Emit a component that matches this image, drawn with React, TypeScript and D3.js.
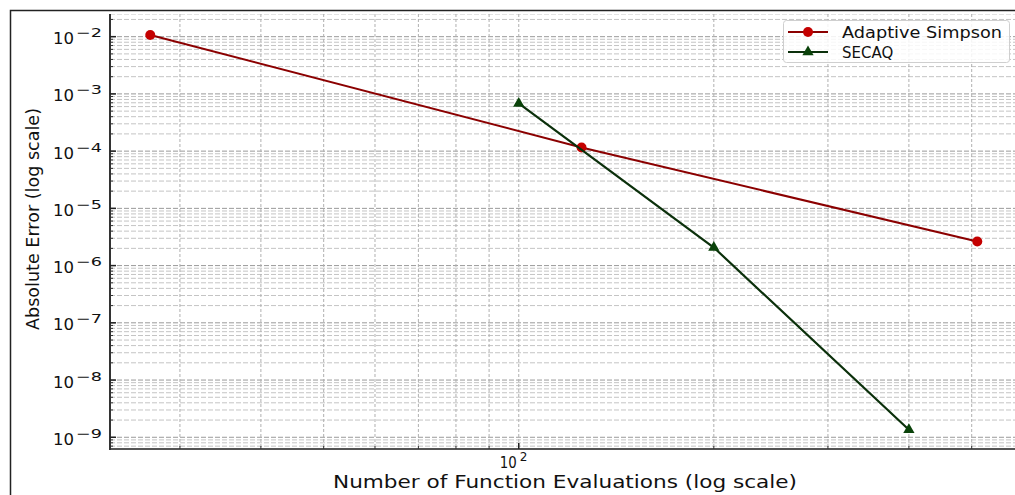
import * as d3 from 'd3';

// values
const simpsonEvals = [27, 125, 510];
const simpsonError = [0.0107, 1.16e-4, 2.63e-6];
const secaqEvals = [100, 200, 400];
const secaqError = [6.8e-4, 2.07e-6, 1.35e-9];
const yTickExponents = [-2, -3, -4, -5, -6, -7, -8, -9];
const xTickExponents = [2];
const seriesNames = ['Adaptive Simpson', 'SECAQ'];

const W = 1015, H = 495;
const left = 110, top = 14, bottom = 449, right = 1023;

const FONT = 'DejaVu Sans, sans-serif';
const RED_LINE = '#8b0000', RED_DOT = '#c40000';
const GREEN_LINE = '#0b300b', GREEN_DOT = '#0a420a';

export default function App() {
    var x = d3.scaleLog().domain([23.4, 600]).range([left, right]);
    var y = d3.scaleLog().domain([0.0249, 6.24e-10]).range([top, bottom]);

    // minor grid positions (2..9 times each decade)
    let yMinor: number[] = [];
    for (let e = -10; e <= -2; e++) {
        for (let k = 2; k <= 9; k++) {
            let v = k * Math.pow(10, e);
            if (v <= 0.0249 && v >= 6.24e-10) yMinor.push(v);
        }
    }
    let xMinor: number[] = [];
    for (let e = 1; e <= 2; e++) {
        for (let k = 2; k <= 9; k++) {
            let v = k * Math.pow(10, e);
            if (v >= 23.4 && v <= 600) xMinor.push(v);
        }
    }
    let yMajor = yTickExponents.map(e => Math.pow(10, e));
    let xMajor = xTickExponents.map(e => Math.pow(10, e));

    const simpson = simpsonEvals.map((v, i) => ({ x: v, y: simpsonError[i] }));
    const secaq = secaqEvals.map((v, i) => ({ x: v, y: secaqError[i] }));

    const line = d3.line<{ x: number, y: number }>()
        .x(d => x(d.x))
        .y(d => y(d.y));

    const tri = d3.symbol().type(d3.symbolTriangle).size(55)();

    return (
        <svg width={W} height={H} style={{ position: 'fixed', left: 0, top: 0, background: '#fff' }}>
            <defs>
                <clipPath id="plot">
                    <rect x={left} y={top} width={W - left} height={bottom - top} />
                </clipPath>
            </defs>
            {/* outer figure frame */}
            <rect x={10.5} y={10.5} width={1020} height={500} fill="none" stroke="#222" strokeWidth={1.5} />

            <g clipPath="url(#plot)">
                {/* horizontal grid */}
                {yMinor.map((v, i) => (
                    <line key={'ym' + i} x1={left} x2={W} y1={y(v)} y2={y(v)}
                        stroke="#c4c4c4" strokeWidth={1} strokeDasharray="5,2" />
                ))}
                {yMajor.map((v, i) => (
                    <line key={'yM' + i} x1={left} x2={W} y1={y(v)} y2={y(v)}
                        stroke="#9a9a9a" strokeWidth={1} strokeDasharray="5,2" />
                ))}
                <line x1={left} x2={W} y1={top} y2={top} stroke="#c8c8c8" strokeDasharray="5,2" />
                {/* vertical grid */}
                {xMinor.concat(xMajor).map((v, i) => (
                    <line key={'xg' + i} x1={x(v)} x2={x(v)} y1={top} y2={bottom}
                        stroke="#b0b0b0" strokeWidth={1} strokeDasharray="3,2" />
                ))}

                {/* Adaptive Simpson */}
                <path d={line(simpson) || ''} fill="none" stroke={RED_LINE} strokeWidth={2} />
                {simpson.map((d, i) => (
                    <circle key={'s' + i} cx={x(d.x)} cy={y(d.y)} r={5} fill={RED_DOT} />
                ))}

                {/* SECAQ */}
                <path d={line(secaq) || ''} fill="none" stroke={GREEN_LINE} strokeWidth={2.2} />
                {secaq.map((d, i) => (
                    <path key={'q' + i} d={tri || ''} transform={`translate(${x(d.x)},${y(d.y)})`} fill={GREEN_DOT} />
                ))}
            </g>

            {/* spines */}
            <line x1={left} x2={W} y1={bottom} y2={bottom} stroke="#555" strokeWidth={2} />
            <line x1={left} x2={left} y1={top} y2={bottom + 1} stroke="#333" strokeWidth={2} />

            {/* y ticks */}
            {yMinor.map((v, i) => (
                <line key={'ytm' + i} x1={left} x2={left + 3} y1={y(v)} y2={y(v)} stroke="#333" strokeWidth={1} />
            ))}
            {yMajor.map((v, i) => (
                <g key={'ytM' + i} fontFamily={FONT} fill="#111">
                    <line x1={left} x2={left + 6} y1={y(v)} y2={y(v)} stroke="#222" strokeWidth={1.5} />
                    <text x={74} y={y(v) + 7.5} textAnchor="end" fontSize={16.5}>10</text>
                    <text x={76} y={y(v) + 0.5} fontSize={12.5} textLength={26} lengthAdjust="spacingAndGlyphs">
                        {'\u2212' + Math.abs(yTickExponents[i])}
                    </text>
                </g>
            ))}

            {/* x ticks */}
            {xMinor.map((v, i) => (
                <line key={'xtm' + i} x1={x(v)} x2={x(v)} y1={bottom} y2={bottom - 3} stroke="#333" strokeWidth={1} />
            ))}
            {xMajor.map((v, i) => (
                <g key={'xtM' + i} fontFamily={FONT} fill="#111">
                    <line x1={x(v)} x2={x(v)} y1={bottom} y2={bottom - 6} stroke="#222" strokeWidth={1.5} />
                    <text x={x(v) - 2} y={468} textAnchor="end" fontSize={16.5} textLength={17} lengthAdjust="spacingAndGlyphs">10</text>
                    <text x={x(v) + 1} y={461} fontSize={12}>{xTickExponents[i]}</text>
                </g>
            ))}

            {/* axis labels */}
            <text x={565} y={488} textAnchor="middle" fontFamily={FONT} fontSize={17} fill="#111"
                textLength={464} lengthAdjust="spacingAndGlyphs">
                Number of Function Evaluations (log scale)
            </text>
            <text transform="translate(39,219) rotate(-90)" textAnchor="middle" fontFamily={FONT} fontSize={18} fill="#111"
                textLength={222} lengthAdjust="spacingAndGlyphs">
                Absolute Error (log scale)
            </text>

            {/* legend */}
            <rect x={783.5} y={20.5} width={226} height={42} rx={3} fill="#fff" fillOpacity={0.85} stroke="#cfcfcf" strokeWidth={1} />
            <line x1={788} x2={828} y1={32} y2={32} stroke={RED_LINE} strokeWidth={2} />
            <circle cx={808} cy={32} r={5} fill={RED_DOT} />
            <text x={842} y={37.5} fontFamily={FONT} fontSize={15} fill="#111" textLength={160} lengthAdjust="spacingAndGlyphs">{seriesNames[0]}</text>
            <line x1={788} x2={828} y1={52} y2={52} stroke={GREEN_LINE} strokeWidth={2.2} />
            <path d={tri || ''} transform="translate(808,52)" fill={GREEN_DOT} />
            <text x={842} y={57.5} fontFamily={FONT} fontSize={15} fill="#111">{seriesNames[1]}</text>
        </svg>
    );
}
